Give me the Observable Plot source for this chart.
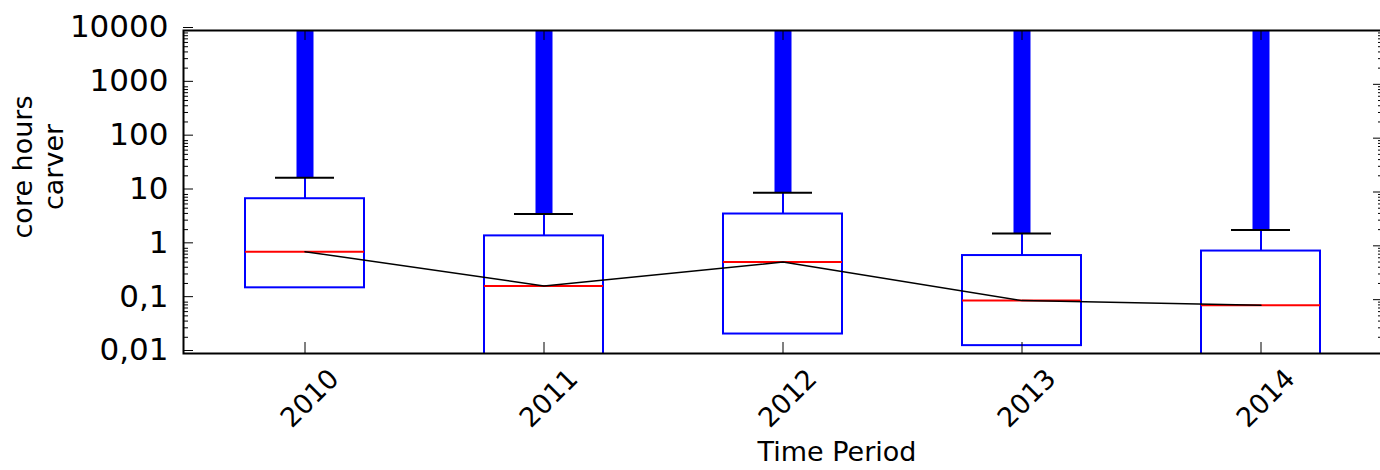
<!DOCTYPE html>
<html>
<head>
<meta charset="utf-8">
<script src="https://cdn.jsdelivr.net/npm/d3@7"></script>
<script src="https://cdn.jsdelivr.net/npm/@observablehq/plot@0.6"></script>
<style>
  html, body { margin: 0; padding: 0; background: #fff; overflow: hidden; }
  svg { display: block; max-width: none !important; height: 470px !important; }
</style>
</head>
<body>
<div id="chart"></div>
<script>
// ---- data ----
const years = ["2010", "2011", "2012", "2013", "2014"];
const q1 = [0.166, 0.005, 0.023, 0.014, 0.005];      // lower quartile (2011, 2014 below 0.01)
const q3 = [7.5, 1.53, 3.9, 0.66, 0.80];             // upper quartile
const medians = [0.78, 0.18, 0.50, 0.096, 0.079];    // median (also the black connecting line)
const whiskerHigh = [18.4, 3.9, 9.7, 1.70, 1.96];    // upper whisker cap
const outlierMax = [50000, 50000, 50000, 50000, 50000]; // outliers run past the top of the axis
const yTicks = [0.01, 0.1, 1, 10, 100, 1000, 10000];
const yTickLabels = ["0,01", "0,1", "1", "10", "100", "1000", "10000"];
const xTitle = "Time Period";
const yTitle = "core hours\ncarver";

const rows = years.map((year, i) => ({
  year, q1: q1[i], q3: q3[i], median: medians[i], hi: whiskerHigh[i], out: outlierMax[i]
}));

// log minor ticks (2..9 in each decade)
const minorTicks = [];
for (let e = -2; e < 4; e++) for (let m = 2; m <= 9; m++) minorTicks.push(m * Math.pow(10, e));

const font = "DejaVu Sans, Bitstream Vera Sans, sans-serif";

const chart = Plot.plot({
  width: 1386,
  height: 470,
  marginLeft: 183,
  marginRight: 4,
  marginTop: 30,
  marginBottom: 117,
  style: { fontFamily: font, color: "black", background: "white" },
  x: { type: "band", domain: years, padding: 0, label: null },
  y: { type: "log", domain: [0.01, 10000], label: null },
  marks: [
    // outliers: dense stack of blue markers drawn as a thick bar
    Plot.ruleX(rows, { x: "year", y1: "hi", y2: "out", stroke: "#0000ff", strokeWidth: 17, clip: true }),
    // whisker
    Plot.ruleX(rows, { x: "year", y1: "q3", y2: "hi", stroke: "#0000ff", strokeWidth: 2, clip: true }),
    // whisker cap
    Plot.tickY(rows, { x: "year", y: "hi", stroke: "black", strokeWidth: 2, insetLeft: 90, insetRight: 90 }),
    // box
    Plot.barY(rows, { x: "year", y1: "q1", y2: "q3", fill: "none", stroke: "#0000ff", strokeWidth: 2, insetLeft: 60, insetRight: 60, clip: true }),
    // median
    Plot.tickY(rows, { x: "year", y: "median", stroke: "#ff0000", strokeWidth: 2, insetLeft: 60, insetRight: 60 }),
    // connecting line through the medians
    Plot.lineY(rows, { x: "year", y: "median", stroke: "black", strokeWidth: 1.5 }),
    // frame
    Plot.frame({ stroke: "black", strokeWidth: 2 }),
    // y axis (left) with inward ticks
    Plot.axisY({ anchor: "left", ticks: yTicks, tickSize: -10, tickPadding: 25, dy: -3,
      tickFormat: d => yTickLabels[yTicks.indexOf(d)], fontSize: 31, label: null }),
    Plot.axisY({ anchor: "left", ticks: minorTicks, tickSize: -5, fill: "none", label: null }),
    // y axis (right) ticks only
    Plot.axisY({ anchor: "right", ticks: yTicks, tickSize: -10, fill: "none", label: null }),
    Plot.axisY({ anchor: "right", ticks: minorTicks, tickSize: -5, fill: "none", label: null }),
    // x axis ticks (bottom and top), inward
    Plot.axisX({ anchor: "bottom", tickSize: -11, fill: "none", label: null }),
    Plot.axisX({ anchor: "top", tickSize: -9, fill: "none", label: null }),
    // rotated year labels
    Plot.text(years, { x: d => d, frameAnchor: "bottom", dy: 45, dx: 5, rotate: -45,
      textAnchor: "middle", lineAnchor: "middle", fontSize: 27, fill: "black" }),
    // axis titles
    Plot.text([xTitle], { frameAnchor: "bottom", dx: 54, dy: 99, fontSize: 27, fill: "black",
      textAnchor: "middle", lineAnchor: "middle" }),
    Plot.text([yTitle], { frameAnchor: "left", dx: -146, dy: -25, rotate: -90, fontSize: 27,
      lineHeight: 1.15, fill: "black", textAnchor: "middle", lineAnchor: "middle" })
  ]
});

document.getElementById("chart").appendChild(chart);
</script>
</body>
</html>
